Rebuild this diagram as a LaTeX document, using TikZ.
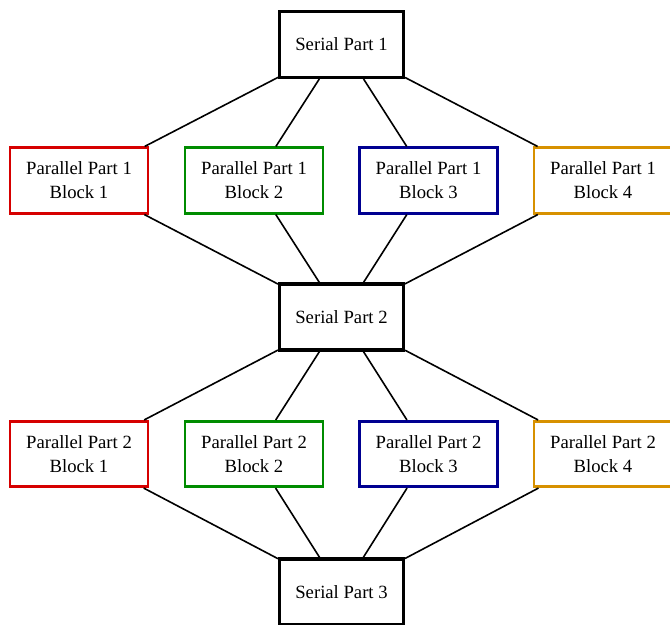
\documentclass[tikz,border=0pt]{standalone}
\usepackage{fontspec}
\setmainfont{Liberation Serif}
\definecolor{blockred}{RGB}{214,0,0}
\definecolor{blockgreen}{RGB}{0,140,0}
\definecolor{blockblue}{RGB}{0,0,145}
\definecolor{blockorange}{RGB}{215,145,0}

\begin{document}
\begin{tikzpicture}[
  x=0.75pt,y=-0.75pt,
  serial/.style={draw,line width=2.3pt,minimum width=93pt,minimum height=49.5pt,inner sep=0pt,font=\fontsize{14}{18}\selectfont},
  block/.style={draw=#1,line width=2.1pt,minimum width=103.5pt,minimum height=49pt,inner sep=0pt,align=center,font=\fontsize{14}{18}\selectfont},
  link/.style={line width=1.2pt}
]
\useasboundingbox (0,0) rectangle (670,624);
\clip (0,0) rectangle (670,624);

\node[serial] (s1) at (341.5,44.5) {Serial Part 1};
\node[serial] (s2) at (341.5,317) {Serial Part 2};
\node[serial] (s3) at (341.5,592) {Serial Part 3};

\foreach \i/\x/\c in {1/79/blockred,2/254/blockgreen,3/428.5/blockblue,4/603/blockorange}{
  \node[block=\c] (p1b\i) at (\x,180.5) {Parallel Part 1\\Block \i};
  \node[block=\c] (p2b\i) at (\x,454) {Parallel Part 2\\Block \i};
  \draw[link] (s1) -- (p1b\i);
  \draw[link] (p1b\i) -- (s2);
  \draw[link] (s2) -- (p2b\i);
  \draw[link] (p2b\i) -- (s3);
}
\end{tikzpicture}
\end{document}
